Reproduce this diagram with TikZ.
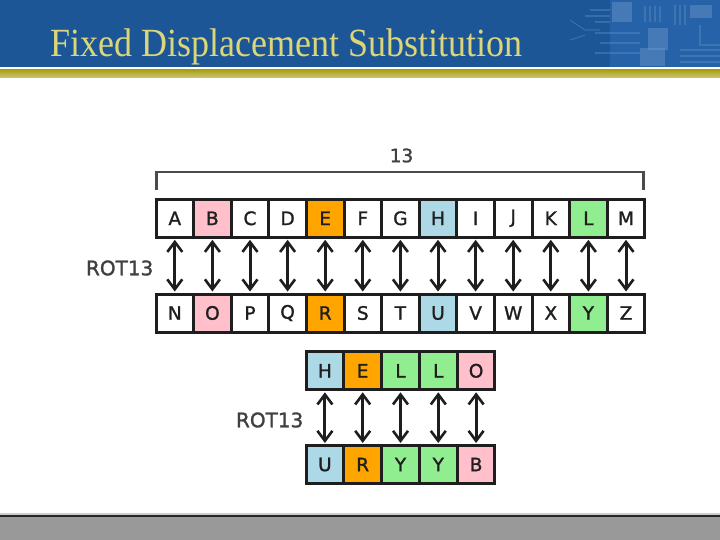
\documentclass[tikz,border=0pt]{standalone}
\usepackage{fontspec}
\setmainfont{Liberation Serif}
\newfontfamily\boxfont[FakeBold=1.3]{DejaVu Sans}
\usetikzlibrary{arrows.meta}
\definecolor{hdrblue}{HTML}{1C5696}
\definecolor{hdrlight}{HTML}{2F6DB5}
\definecolor{olive}{HTML}{A89E12}
\definecolor{titlecol}{HTML}{DCD67A}
\definecolor{cpink}{HTML}{FFC0CB}
\definecolor{corange}{HTML}{FFA500}
\definecolor{cblue}{HTML}{ADD8E6}
\definecolor{cgreen}{HTML}{90EE90}
\definecolor{ink}{HTML}{1E1E1E}
\tikzset{
  letterbox/.style={draw=ink, line width=3pt, minimum width=37.6pt, minimum height=38pt,
    inner sep=0pt, font=\boxfont\fontsize{18.5}{18.5}\selectfont, text=ink, anchor=center},
  rotarrow/.style={{Straight Barb[length=10pt,width=15pt,line width=2.6pt]}-{Straight Barb[length=10pt,width=15pt,line width=2.6pt]}, line width=3pt, draw=ink, shorten <=1pt, shorten >=1pt},
  rotlabel/.style={font=\boxfont\fontsize{20}{20}\selectfont, text=ink!85, inner sep=0pt},
  bracket/.style={line width=2.2pt, draw=ink!80}
}
\begin{document}
\begin{tikzpicture}[x=1pt,y=-1pt]
\useasboundingbox (0,0) rectangle (720,540);
\fill[white] (0,0) rectangle (720,540);
% header
\fill[hdrblue] (0,0) rectangle (720,67.5);
\begin{scope}[hdrlight, opacity=0.55]
  \fill (610,0) rectangle (720,67.5);
\end{scope}
\begin{scope}[draw=hdrlight!80!white, fill=hdrlight!70!white, opacity=0.45, line width=1.2pt]
  \fill (612,2) rectangle (632,22);
  \fill (648,28) rectangle (668,50);
  \fill (690,5) rectangle (712,18);
  \fill (640,48) rectangle (665,66);
  \draw (590,10) -- (610,10) (585,16) -- (610,16) (595,22) -- (610,22);
  \draw (595,33) -- (640,33) (600,43) -- (640,43) (595,53) -- (640,53);
  \draw (645,6) -- (645,22) (650,6) -- (650,22) (655,6) -- (655,22) (660,6) -- (660,22);
  \draw (675,5) -- (675,25) (680,5) -- (680,25) (685,5) -- (685,25);
  \draw (680,50) -- (720,50) (680,56) -- (720,56) (680,62) -- (720,62);
  \draw (700,25) -- (700,45) -- (720,45);
  \draw (570,20) -- (585,30) -- (600,30) (570,40) -- (585,35);
\end{scope}
\fill[white] (0,67.5) rectangle (720,69.5);
\shade[top color=olive, bottom color=olive!60!white] (0,69.5) rectangle (720,77.5);
\node[anchor=base west, inner sep=0pt, text=titlecol, font=\fontsize{40}{40}\selectfont, xscale=0.9] (title) at (50,57) {Fixed Displacement Substitution};
% footer
\fill[black!20] (0,512.5) rectangle (720,514.5);
\fill[black!85] (0,514.5) rectangle (720,516.5);
\fill[black!40] (0,516.5) rectangle (720,540);
% alphabet rows
\foreach \L/\M/\c [count=\i] in {A/N/white,B/O/cpink,C/P/white,D/Q/white,E/R/corange,F/S/white,G/T/white,H/U/cblue,I/V/white,J/W/white,K/X/white,L/Y/cgreen,M/Z/white}{
  \node[letterbox, fill=\c] (t\i) at ({156+37.6*(\i-0.5)},218.3) {\L};
  \node[letterbox, fill=\c] (b\i) at ({156+37.6*(\i-0.5)},313) {\M};
}
\foreach \i in {1,...,13}{ \draw[rotarrow] (t\i.south) -- (b\i.north); }
\node[rotlabel, anchor=east] (rot1) at (153.5,268) {ROT13};
% bracket
\coordinate (bl) at (156.5,190);
\coordinate (br) at (643.5,190);
\draw[bracket] (bl) -- (156.5,172) -- (643.5,172) -- (br);
\node[rotlabel, font=\boxfont\fontsize{18.5}{18.5}\selectfont] (n13) at (401.5,155.5) {13};
% HELLO rows
\foreach \L/\M/\c [count=\i] in {H/U/cblue,E/R/corange,L/Y/cgreen,L/Y/cgreen,O/B/cpink}{
  \node[letterbox, fill=\c] (h\i) at ({306+37.8*(\i-0.5)},370.8) {\L};
  \node[letterbox, fill=\c] (u\i) at ({306+37.8*(\i-0.5)},464.5) {\M};
}
\foreach \i in {1,...,5}{ \draw[rotarrow] (h\i.south) -- (u\i.north); }
\node[rotlabel, anchor=east] (rot2) at (303.5,420) {ROT13};
\end{tikzpicture}
\end{document}
